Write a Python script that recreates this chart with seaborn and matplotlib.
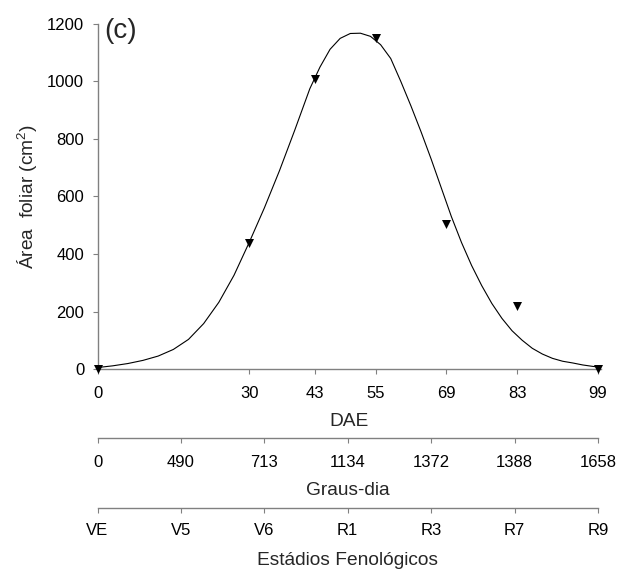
import matplotlib
matplotlib.use("Agg")
import matplotlib.pyplot as plt
import seaborn as sns
import pandas as pd

# --- data ---
dae_obs = [0, 30, 43, 55, 69, 83, 99]
area_obs = [0, 440, 1010, 1152, 503, 220, 0]

# fitted curve, values
curve_x = [0, 3, 6, 9, 12, 15, 18, 21, 24, 27, 30, 33, 36, 39, 42, 44, 46, 48,
           50, 52, 54, 56, 58, 60, 62, 64, 66, 68, 70, 72, 74, 76, 78, 80, 82,
           84, 86, 88, 90, 92, 94, 96, 98, 99]
curve_y = [5, 11, 19, 30, 45, 68, 103, 158, 232, 326, 440, 560, 690, 830, 975,
           1050, 1112, 1150, 1167, 1168, 1157, 1128, 1080, 1000, 915, 825, 730,
           630, 530, 440, 360, 290, 228, 176, 133, 100, 72, 52, 37, 27, 21, 14,
           9, 7]

dae_ticks = [0, 30, 43, 55, 69, 83, 99]
graus_labels = ["0", "490", "713", "1134", "1372", "1388", "1658"]
estadios_labels = ["VE", "V5", "V6", "R1", "R3", "R7", "R9"]
y_ticks = [0, 200, 400, 600, 800, 1000, 1200]

sns.set_theme(style="ticks")
plt.rcParams["font.family"] = ["Liberation Sans", "DejaVu Sans"]
plt.rcParams["mathtext.fontset"] = "custom"
plt.rcParams["mathtext.rm"] = "Liberation Sans"
plt.rcParams["mathtext.it"] = "Liberation Sans"

W, H = 617, 572
fig = plt.figure(figsize=(W / 100, H / 100), dpi=100)

spine_c = "#808080"
TICK_FS = 12
TITLE_FS = 13.8
TICK_PAD = 8.5
x0, x99 = 97.5, 598.0
scale = (x99 - x0) / 99.0
right_px = 601.0

ax = fig.add_axes([x0 / W, 1 - 369 / H, (right_px - x0) / W, (369 - 24) / H])
curve_df = pd.DataFrame({"x": curve_x, "y": curve_y})
obs_df = pd.DataFrame({"x": dae_obs, "y": area_obs})
sns.lineplot(data=curve_df, x="x", y="y", ax=ax, color="black", linewidth=0.8,
             sort=False, clip_on=False)
sns.scatterplot(data=obs_df, x="x", y="y", ax=ax, marker="v", s=42, color="black",
                linewidth=0, clip_on=False, zorder=5)
ax.set_xlim(0, (right_px - x0) / scale)
ax.set_ylim(0, 1200)
ax.set_xticks(dae_ticks)
ax.set_xticklabels([str(t) for t in dae_ticks])
ax.set_yticks(y_ticks)
ax.set_yticklabels([str(t) for t in y_ticks])
for s in ["top", "right"]:
    ax.spines[s].set_visible(False)
for s in ["left", "bottom"]:
    ax.spines[s].set_color(spine_c)
    ax.spines[s].set_linewidth(1.0)
ax.tick_params(axis="both", colors=spine_c, labelcolor="black", length=3.6,
               width=0.8, labelsize=TICK_FS)
ax.tick_params(axis="x", pad=TICK_PAD)
ax.tick_params(axis="y", pad=6)
ax.set_xlabel("DAE", fontsize=TITLE_FS, labelpad=9)
ax.set_ylabel("Área  foliar (cm$^2$)", fontsize=TITLE_FS, labelpad=5)
fig.text(104 / W, 1 - 31 / H, "(c)", fontsize=20, ha="left", va="center")


def extra_axis(y_px, labels, title, labelpad, pad):
    a = fig.add_axes([x0 / W, 1 - y_px / H, (x99 - x0) / W, 0.0005])
    a.set_xlim(0, len(labels) - 1)
    a.set_xticks(range(len(labels)))
    a.set_xticklabels(labels)
    a.set_yticks([])
    for s in ["top", "right", "left"]:
        a.spines[s].set_visible(False)
    a.spines["bottom"].set_color(spine_c)
    a.spines["bottom"].set_linewidth(1.0)
    a.tick_params(axis="x", colors=spine_c, labelcolor="black", length=3.6,
                  width=0.8, labelsize=TICK_FS, pad=pad)
    a.set_xlabel(title, fontsize=TITLE_FS, labelpad=labelpad)
    a.patch.set_visible(False)
    return a


extra_axis(437.7, graus_labels, "Graus-dia", 9, TICK_PAD)
extra_axis(507.7, estadios_labels, "Estádios Fenológicos", 10, 7.5)

fig.savefig("out.png", dpi=100)
